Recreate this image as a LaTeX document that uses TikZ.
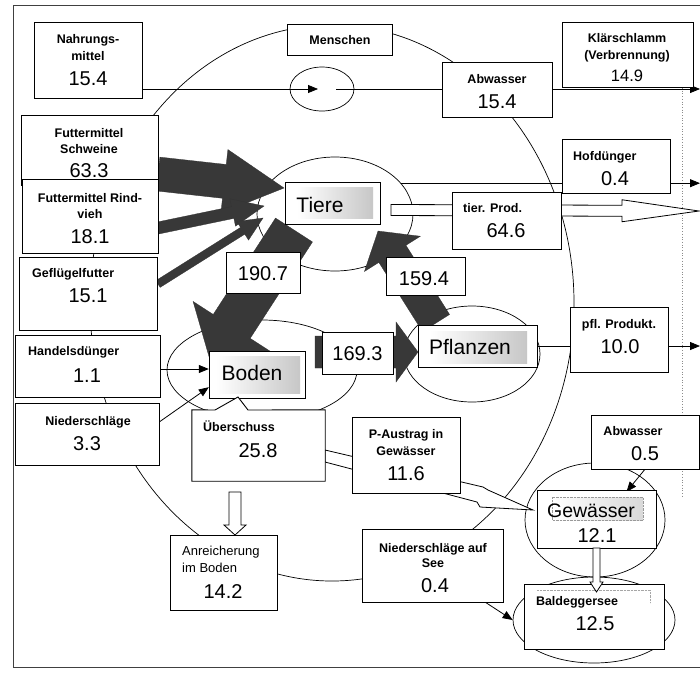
\documentclass[tikz,border=0pt]{standalone}
\usepackage{fontspec}
\setmainfont{Liberation Sans}
\usetikzlibrary{arrows.meta,calc,shapes.geometric,fit}
\newcommand\blkarrow[6]{%
  \coordinate (bah) at ($(#3)!#6!(#2)$);
  \path[#1] ($(#2)!#4!90:(#3)$) -- ($(bah)!#4!90:(#3)$) -- ($(bah)!#5!90:(#3)$) -- (#3)
     -- ($(bah)!#5!-90:(#3)$) -- ($(bah)!#4!-90:(#3)$) -- ($(#2)!#4!-90:(#3)$) -- cycle;}
\tikzset{
  box/.style={draw=black, line width=0.9pt, fill=white, rectangle, inner sep=0pt},
  lbl/.style={font=\fontsize{12.5}{14}\selectfont\bfseries, inner sep=0pt, anchor=base},
  lblr/.style={font=\fontsize{13}{15}\selectfont, inner sep=0pt, anchor=base},
  num/.style={font=\fontsize{20}{22}\selectfont, inner sep=0pt, anchor=base},
  big/.style={font=\fontsize{21}{24}\selectfont, inner sep=0pt, anchor=base},
  ell/.style={draw=black, line width=0.7pt, ellipse, inner sep=0pt},
  thinline/.style={draw=black, line width=0.8pt},
  tipped/.style={-{Triangle[length=10pt,width=8pt]}},
  darkarrow/.style={fill=black!78, draw=black!80, line width=0.3pt},
  hollowarrow/.style={fill=white, draw=black, line width=0.8pt, line join=miter},
  hilite/.style={left color=white, right color=black!22},
}
\begin{document}
\begin{tikzpicture}[x=1pt,y=-1pt]
\useasboundingbox (0,0) rectangle (700,673);
\fill[white] (0,0) rectangle (700,673);
\draw[line width=1pt, black!75] (700,5) -- (13,5) -- (13,667) -- (700,667);

% system boundary and ellipses
\node[ell, minimum width=484pt, minimum height=556pt] (sys) at (332,303) {};
\node[ell, minimum width=64pt, minimum height=44pt] (mensE) at (322,89) {};
\node[ell, minimum width=156pt, minimum height=114pt] (tierE) at (335,214) {};
\node[ell, minimum width=190pt, minimum height=100pt] (bodE) at (262,370) {};
\node[ell, minimum width=136pt, minimum height=96pt] (pflE) at (472,354) {};
\node[ell, minimum width=140pt, minimum height=114pt] (gewE) at (595,520) {};
\node[ell, minimum width=162pt, minimum height=86pt] (balE) at (594,620) {};

\draw[black!45, dotted, line width=0.7pt] (682,88) -- (682,498);

% box placeholders (for anchors)
\node[fit={(34,22) (142,98)}, inner sep=0pt] (nahr) {};
\node[fit={(442,62) (552,117)}, inner sep=0pt] (abw) {};
\node[fit={(15,335) (160,397)}, inner sep=0pt] (handel) {};
\node[fit={(15,403) (159,465)}, inner sep=0pt] (nieder) {};
\node[fit={(209,351) (305,398)}, inner sep=0pt] (boden) {};
\node[fit={(418,325) (537,367)}, inner sep=0pt] (pflanz) {};
\node[fit={(591,415) (699,469)}, inner sep=0pt] (abw2) {};
\node[fit={(537,490) (656,548)}, inner sep=0pt] (gew) {};
\node[fit={(362,529) (503,602)}, inner sep=0pt] (nsee) {};

\coordinate (kend) at (700,89);
\coordinate (hofend) at (700,184);
\coordinate (pflend) at (700,346);

% thin flows
\draw[thinline, tipped] (nahr.east |- mensE.center) -- ([xshift=-4pt]mensE.center);
\draw[thinline, tipped] ([xshift=14pt]mensE.center) -- (kend);
\draw[thinline, tipped] (tierE.25) -- (tierE.25 -| hofend);
\draw[thinline, tipped] (pflanz.east) -- (pflend);
\draw[thinline, tipped] ([yshift=-3pt]handel.east) -- ([yshift=-3pt]handel.east -| boden.west);
\draw[thinline, tipped] ([yshift=12pt]nieder.east) -- ([yshift=11pt]boden.south west);
\draw[thinline, tipped] (abw2.south) -- ([xshift=30pt,yshift=-2pt]gew.north);
\draw[thinline, tipped] ([xshift=15.5pt,yshift=-12.5pt]nsee.center) -- (balE.west);

% hollow arrows
\coordinate (tpA) at (391,210);
\coordinate (tpB) at (699,211);
\blkarrow{hollowarrow}{tpA}{tpB}{5.5pt}{11pt}{77pt}
\coordinate (paA) at (325,450);
\path[hollowarrow] (paA) -- (483,487) -- (488,490) -- (533,510) -- (480,507) -- (477,502) -- (325,462) -- cycle;
\coordinate (anA) at (235,492);
\coordinate (anB) at (235,535);
\blkarrow{hollowarrow}{anA}{anB}{6pt}{11pt}{10pt}

% dark arrows
\coordinate (swA) at (158,174);  \coordinate (swB) at (284,188);
\coordinate (riA) at (158,228);  \coordinate (riB) at (264,206);
\coordinate (geA) at (158,284);  \coordinate (geB) at (263,218);
\coordinate (tbA) at (294,230);  \coordinate (tbB) at (210,360);
\coordinate (ptA) at (436,323);  \coordinate (ptB) at (378,231);
\coordinate (bpA) at (315,352);  \coordinate (bpB) at (418,352);
\blkarrow{darkarrow}{swA}{swB}{17pt}{32pt}{60pt}
\blkarrow{darkarrow}{riA}{riB}{6pt}{14pt}{32pt}
\blkarrow{darkarrow}{geA}{geB}{4pt}{11pt}{24pt}
\blkarrow{darkarrow}{tbA}{tbB}{22pt}{46pt}{40pt}
\blkarrow{darkarrow}{ptA}{ptB}{16pt}{33pt}{27pt}
\blkarrow{darkarrow}{bpA}{bpB}{16pt}{30pt}{22pt}

% boxes
\node[box, fit={(34,22) (142,98)}] (nahrB) {};
\node[lbl] (nahr1) at (88,43) {Nahrungs-};
\node[lbl] (nahr2) at (88,60) {mittel};
\node[num] (nahr3) at (88,85) {15.4};

\node[box, fit={(287,24) (392,55)}] (mensch) {};
\node[lbl] (mensch1) at (340,44) {Menschen};

\node[box, fit={(442,62) (552,117)}] (abwB) {};
\node[lbl] (abw1) at (497,83) {Abwasser};
\node[num] (abw3) at (497,108) {15.4};

\node[box, fit={(562,22) (693,87)}] (klaer) {};
\node[lbl] (klaer1) at (627,42) {Klärschlamm};
\node[lbl] (klaer2) at (627,59) {(Verbrennung)};
\node[font=\fontsize{16.5}{19}\selectfont, inner sep=0pt, anchor=base] (klaer3) at (627,81) {14.9};

\node[box, fit={(562,139) (670,193)}] (hof) {};
\node[lbl, anchor=base west] (hof1) at (573,160) {Hofdünger};
\node[num] (hof3) at (615,185) {0.4};

\node[box, fit={(452,192) (561,249)}] (tprod) {};
\node[lbl, anchor=base west] (tprod1) at (463,212) {tier. Prod.};
\node[num] (tprod3) at (506,237) {64.6};

\node[box, fit={(21,115) (158,185)}] (schw) {};
\node[lbl] (schw1) at (89,137) {Futtermittel};
\node[lbl] (schw2) at (89,153) {Schweine};
\node[num] (schw3) at (89,177) {63.3};

\node[box, fit={(22,179) (158,253)}] (rind) {};
\node[lbl] (rind1) at (90,202) {Futtermittel Rind-};
\node[lbl] (rind2) at (90,218) {vieh};
\node[num] (rind3) at (90,243) {18.1};

\node[box, fit={(19,257) (157,330)}] (gefl) {};
\node[lbl, anchor=base west] (gefl1) at (32,277) {Geflügelfutter};
\node[num] (gefl3) at (88,302) {15.1};

\node[box, fit={(15,335) (160,397)}] (handelB) {};
\node[lbl, anchor=base west] (handel1) at (28,355) {Handelsdünger};
\node[num] (handel3) at (87,382) {1.1};

\node[box, fit={(15,403) (159,465)}] (niederB) {};
\node[lbl] (nieder1) at (88,425) {Niederschläge};
\node[num] (nieder3) at (87,450) {3.3};

\node[box, fit={(285,182) (380,224)}] (tiere) {};
\shade[hilite] (297,187) rectangle (373,218);
\node[big] (tiere1) at (320,212) {Tiere};

\node[box, fit={(209,351) (305,398)}] (bodenB) {};
\shade[hilite] (216,356) rectangle (300,393);
\node[big] (boden1) at (252,380) {Boden};

\node[box, fit={(418,325) (537,367)}] (pflanzB) {};
\shade[hilite] (430,331) rectangle (527,363);
\node[big] (pflanz1) at (470,354) {Pflanzen};

\node[box, fit={(570,307) (668,372)}] (pflprod) {};
\node[lbl] (pflprod1) at (619,328) {pfl. Produkt.};
\node[num] (pflprod3) at (620,353) {10.0};

\node[fit={(192,410) (325,481)}, inner sep=0pt] (ueber) {};
\draw[box] (ueber.north west) -- (215,410) -- (238,397) -- (248,410) -- (ueber.north east)
   -- (ueber.south east) -- (ueber.south west) -- cycle;
\node[lbl, anchor=base west] (ueber1) at (203,431) {Überschuss};
\node[num] (ueber3) at (258,457) {25.8};

\node[box, fit={(352,417) (460,493)}] (paus) {};
\node[lbl] (paus1) at (406,438) {P-Austrag in};
\node[lbl] (paus2) at (406,455) {Gewässer};
\node[num] (paus3) at (406,480) {11.6};

\node[box, fit={(170,535) (277,610)}] (anr) {};
\node[lblr, anchor=base west] (anr1) at (182,555) {Anreicherung};
\node[lblr, anchor=base west] (anr2) at (182,572) {im Boden};
\node[num] (anr3) at (223,598) {14.2};

\node[box, fit={(591,415) (699,469)}] (abw2B) {};
\node[lbl] (abw21) at (633,435) {Abwasser};
\node[num] (abw23) at (645,460) {0.5};

\node[box, fit={(537,490) (656,548)}] (gewB) {};
\shade[left color=white, right color=black!15] (552,497) rectangle (643,520);
\draw[black!40, densely dotted] (552,497) rectangle (643,520);
\node[big, font=\fontsize{19.5}{23}\selectfont] (gew1) at (591,517) {Gewässer};
\node[num] (gew3) at (597,542) {12.1};

\node[box, fit={(524,584) (664,649)}] (bal) {};
\draw[black!35, densely dotted] (537,590) -- (650,590) -- (650,603);
\node[lbl] (bal1) at (577,605) {Baldeggersee};
\node[num] (bal3) at (595,630) {12.5};

\node[box, fit={(362,529) (503,602)}] (nseeB) {};
\node[lbl] (nsee1) at (433,552) {Niederschläge auf};
\node[lbl] (nsee2) at (433,567) {See};
\node[num] (nsee3) at (435,592) {0.4};

% value boxes on the big arrows
\node[box, fit={(226,252) (300,293)}] (v190) {};
\node[num] (v190t) at (263,280) {190.7};
\node[box, fit={(386,257) (465,295)}] (v159) {};
\node[num] (v159t) at (424,285) {159.4};
\node[box, fit={(322,332) (393,374)}] (v169) {};
\node[num] (v169t) at (357.5,360) {169.3};

% Gewaesser -> Baldeggersee
\coordinate (gbA) at (596.5,548);
\coordinate (gbB) at (596.5,592);
\blkarrow{hollowarrow}{gbA}{gbB}{3.5pt}{6.5pt}{10pt}
\end{tikzpicture}
\end{document}
